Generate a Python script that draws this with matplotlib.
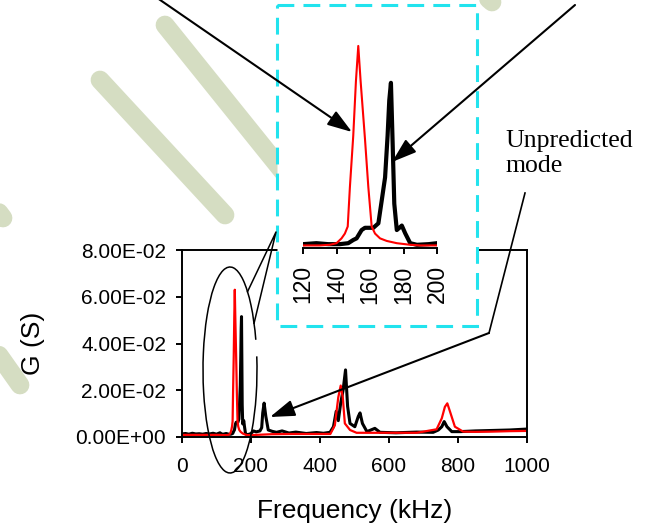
import numpy as np
import matplotlib.pyplot as plt
from matplotlib.patches import Rectangle, Arc

# conductance spectra (kHz, S)
freq_black = [0, 10, 20, 30, 40, 50, 60, 70, 80, 90,
              100, 110, 115, 120, 128, 135, 142, 147, 150, 152,
              155, 157, 162, 165, 167, 169, 170.5, 171.5, 172.5, 173.5,
              174.5, 176, 178, 179, 181, 184, 188, 195, 200, 207,
              215, 226, 231, 234, 238, 243, 250, 262, 274, 290,
              310, 330, 360, 390, 410, 429, 439, 447, 453, 460,
              467, 474, 480, 487, 501, 511, 516, 523, 536, 559,
              574, 620, 680, 728, 743, 753, 760, 768, 782, 806,
              850, 900, 950, 1000]
g_black = [0.0013, 0.0015, 0.0012, 0.0016, 0.0013, 0.0014, 0.0012, 0.0015, 0.0013, 0.0016,
           0.0012, 0.0018, 0.0013, 0.0012, 0.0015, 0.0012, 0.0012, 0.0015, 0.0025, 0.0030,
           0.0056, 0.0063, 0.0063, 0.0077, 0.0148, 0.0220, 0.0350, 0.0460, 0.0515, 0.0330,
           0.0138, 0.0056, 0.0065, 0.0070, 0.0046, 0.0015, 0.0010, 0.0012, 0.0015, 0.0026,
           0.0022, 0.0026, 0.0040, 0.0103, 0.0145, 0.0088, 0.0030, 0.0024, 0.0020, 0.0026,
           0.0017, 0.0021, 0.0015, 0.0019, 0.0016, 0.0020, 0.0044, 0.0110, 0.0070, 0.0145,
           0.0201, 0.0287, 0.0131, 0.0058, 0.0044, 0.0088, 0.0103, 0.0058, 0.0023, 0.0037,
           0.0020, 0.0018, 0.0021, 0.0020, 0.0030, 0.0044, 0.0066, 0.0044, 0.0023, 0.0023,
           0.0026, 0.0028, 0.0030, 0.0034]

freq_red = [0, 40, 80, 110, 120, 130, 136, 140, 143, 145,
            146.7, 148, 150, 151.6, 153, 154.4, 157, 159, 161, 163,
            166, 170, 176, 184, 190, 200, 260, 320, 380, 430,
            443, 453, 460, 466, 472, 487, 506, 560, 620, 680,
            700, 738, 753, 762, 769, 777, 791, 815, 850, 900,
            950, 1000]
g_red = [0.0009, 0.0009, 0.0009, 0.0009, 0.0008, 0.0008, 0.0010, 0.0015, 0.0030, 0.0045,
         0.0067, 0.0190, 0.0350, 0.0520, 0.0630, 0.0520, 0.0340, 0.0190, 0.0067, 0.0045,
         0.0030, 0.0022, 0.0015, 0.0010, 0.0008, 0.0008, 0.0012, 0.0013, 0.0013, 0.0013,
         0.0050, 0.0170, 0.0220, 0.0170, 0.0058, 0.0030, 0.0018, 0.0018, 0.0018, 0.0018,
         0.0023, 0.0033, 0.0080, 0.0129, 0.0144, 0.0108, 0.0044, 0.0023, 0.0022, 0.0023,
         0.0025, 0.0026]

x_ticks = [0, 200, 400, 600, 800, 1000]
y_ticks = [0, 0.02, 0.04, 0.06, 0.08]
inset_ticks = [120, 140, 160, 180, 200]

plt.rcParams['font.family'] = ['Liberation Sans', 'DejaVu Sans']

W, H = 646, 530
fig = plt.figure(figsize=(W / 100, H / 100), dpi=100)


def pixel_axes(z):
    a = fig.add_axes([0, 0, 1, 1], zorder=z)
    a.set_xlim(0, W)
    a.set_ylim(H, 0)
    a.axis('off')
    return a


# faint watermark stripes behind the pasted chart
bg = pixel_axes(0)
stripes = [((165, 25), (330, 230)), ((100, 80), (225, 215)), ((-40, 160), (3, 218)),
           ((-40, 300), (20, 385)), ((150, -80), (213, -6)), ((420, -60), (492, 2))]
for (x0, y0), (x1, y1) in stripes:
    bg.plot([x0, x1], [y0, y1], color='#d5ddc2', lw=13.5, solid_capstyle='round')
bg.add_patch(Rectangle((10, 230), W - 10, H - 230, color='white'))

# main spectrum
ax = fig.add_axes([182 / W, 1 - 437 / H, 345 / W, 187 / H], zorder=1)
ax.patch.set_alpha(0)
ax.plot(freq_black, g_black, color='black', lw=2.2)
ax.plot(freq_red, g_red, color='red', lw=1.6)
ax.set_xlim(0, 1000)
ax.set_ylim(0, 0.08)
ax.set_xticks(x_ticks)
ax.set_yticks(y_ticks)
ax.set_yticklabels([f"{v:.2E}" for v in y_ticks])
for s in ax.spines.values():
    s.set_linewidth(1.4)
ax.tick_params(axis='both', direction='out', length=4.5, width=1.4, labelsize=15)
ax.tick_params(axis='x', pad=10)
ax.tick_params(axis='y', pad=7)
ax.set_xlabel('Frequency (kHz)', fontsize=19)
ax.set_ylabel('G (S)', fontsize=19)
ax.xaxis.set_label_coords(0.5, -0.33)
ax.yaxis.set_label_coords(-0.397, 0.5)

# white inset frame with cyan dashed border
frame = pixel_axes(2)
frame.add_patch(Rectangle((277, 5), 200, 321, facecolor='white', edgecolor='#22e3ee',
                          lw=2.2, ls=(0, (5.5, 3))))

# zoomed view 120-200 kHz
ins = fig.add_axes([303 / W, 1 - 248 / H, 134 / W, 212 / H], zorder=3)
ins.patch.set_alpha(0)
ins.plot(freq_black, g_black, color='black', lw=3)
ins.plot(freq_red, g_red, color='red', lw=1.5)
ins.set_xlim(120, 200)
ins.set_ylim(0, 0.0661)
ins.set_xticks(inset_ticks)
ins.set_yticks([])
for side in ['top', 'left', 'right']:
    ins.spines[side].set_visible(False)
ins.spines['bottom'].set_linewidth(1.4)
ins.tick_params(axis='x', direction='out', length=4.5, width=1.4, labelsize=16.5,
                labelrotation=90, pad=8)

# annotations
ov = pixel_axes(4)
arrow = dict(arrowstyle='-|>,head_length=0.75,head_width=0.25', color='black', lw=1.5,
             shrinkA=0, shrinkB=0, mutation_scale=20)
ov.annotate('', xy=(352, 132), xytext=(150, -7), arrowprops=arrow)
ov.annotate('', xy=(392, 162), xytext=(575, 5), arrowprops=arrow)
ov.plot([525, 489], [193, 333], color='black', lw=1.2)
ov.annotate('', xy=(270, 417), xytext=(489, 333), arrowprops=arrow)
ov.text(505, 130, 'Unpredicted\nmode', family='Liberation Serif', fontsize=18.5,
        va='top', ha='left', linespacing=1.2)

# callout bubble round the first resonance
cx, cy, ew, eh = 230, 370, 54, 206
t1, t2 = -27.0, -49.5
ov.add_patch(Arc((cx, cy), ew, eh, theta1=t1, theta2=t2 + 360, color='black', lw=1.1))
p1 = (cx + ew / 2 * np.cos(np.radians(t2)), cy + eh / 2 * np.sin(np.radians(t2)))
p2 = (cx + ew / 2 * np.cos(np.radians(t1)), cy + eh / 2 * np.sin(np.radians(t1)))
ov.plot([p1[0], 276, p2[0]], [p1[1], 232, p2[1]], color='black', lw=1.1)

fig.savefig('out.png', dpi=100, facecolor='white')
